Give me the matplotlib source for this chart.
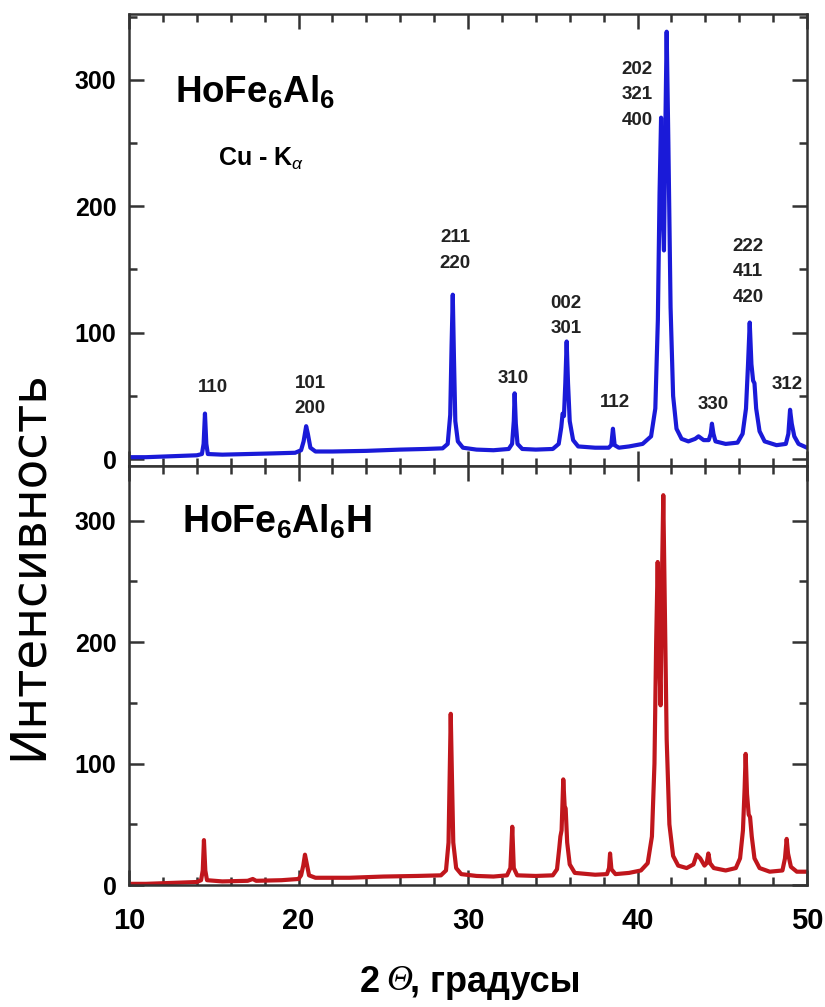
import numpy as np
import matplotlib.pyplot as plt
from matplotlib.ticker import MultipleLocator

plt.rcParams['font.family'] = ['Liberation Sans', 'DejaVu Sans']
plt.rcParams['mathtext.fontset'] = 'custom'
plt.rcParams['mathtext.rm'] = 'Liberation Sans:bold'
plt.rcParams['mathtext.bf'] = 'Liberation Sans:bold'
plt.rcParams['mathtext.it'] = 'Liberation Sans:italic'

# HoFe6Al6, Cu-Ka, 2theta (deg) vs intensity
two_theta_alloy = [
    10.0, 11.0, 12.0, 13.0, 14.0, 14.3, 14.4, 14.48, 14.56, 14.65, 15.5, 17.0, 18.5,
    19.8, 20.15, 20.3, 20.45, 20.55, 20.7, 21.0, 22.0, 24.0, 26.0, 27.5, 28.5, 28.8,
    28.95, 29.03, 29.1, 29.17, 29.25, 29.4, 29.7, 30.5, 31.5, 32.4, 32.6, 32.7, 32.75,
    32.82, 32.92, 33.2, 34.0, 35.0, 35.35, 35.5, 35.58, 35.66, 35.74, 35.82, 35.9,
    36.0, 36.2, 36.5, 37.5, 38.3, 38.45, 38.55, 38.65, 38.9, 39.5, 40.3, 40.8, 41.05,
    41.2, 41.3, 41.39, 41.47, 41.56, 41.64, 41.72, 41.82, 41.95, 42.1, 42.3, 42.6,
    43.0, 43.4, 43.6, 43.9, 44.2, 44.32, 44.39, 44.48, 44.6, 45.2, 45.9, 46.2, 46.4,
    46.52, 46.62, 46.72, 46.82, 46.9, 47.0, 47.2, 47.5, 48.2, 48.75, 48.9, 49.0, 49.1,
    49.25, 49.5, 50.0]
intensity_alloy = [
    1.5, 1.5, 2, 2.5, 3, 4, 12, 36, 12, 4, 3.5, 4, 4.5,
    5, 7, 14, 26, 20, 9, 6, 6, 6.5, 7.5, 8, 8.5, 12,
    35, 90, 130, 80, 30, 14, 9, 7.5, 7, 8, 12, 30, 52,
    28, 12, 8, 7.5, 8, 12, 25, 36, 34, 60, 93, 60,
    30, 15, 10, 9, 9, 11, 24, 11, 9, 10, 12, 18, 40,
    110, 210, 270, 200, 165, 260, 338, 250, 120, 50, 24, 16,
    14, 16, 18, 15, 15, 20, 28, 20, 14, 12, 13, 20, 40,
    75, 108, 75, 62, 60, 40, 22, 14, 11, 12, 20, 39, 28,
    18, 12, 9]

# HoFe6Al6H
two_theta_hydride = [
    10.0, 11.0, 12.0, 13.0, 14.0, 14.25, 14.35, 14.42, 14.5, 14.6, 15.5, 17.0, 17.3,
    17.5, 19.0, 20.0, 20.15, 20.28, 20.38, 20.48, 20.62, 21.0, 23.0, 25.0, 27.0, 28.4,
    28.7, 28.85, 28.93, 28.98, 29.05, 29.13, 29.3, 29.6, 30.5, 31.5, 32.3, 32.5, 32.61,
    32.7, 32.9, 34.0, 35.0, 35.25, 35.38, 35.45, 35.52, 35.62, 35.7, 35.76, 35.85,
    36.0, 36.3, 37.5, 38.2, 38.32, 38.38, 38.46, 38.7, 39.5, 40.2, 40.6, 40.85, 41.0,
    41.1, 41.19, 41.28, 41.36, 41.44, 41.52, 41.6, 41.72, 41.88, 42.1, 42.4, 42.9,
    43.3, 43.49, 43.7, 43.95, 44.08, 44.18, 44.28, 44.5, 45.2, 45.8, 46.05, 46.22,
    46.32, 46.38, 46.46, 46.56, 46.64, 46.74, 46.9, 47.2, 47.8, 48.55, 48.7, 48.8,
    48.88, 49.05, 49.4, 50.0]
intensity_hydride = [
    1, 1, 1.5, 2, 2.5, 4, 12, 37, 12, 4, 3, 3.5, 5,
    3.5, 4, 5, 8, 16, 25, 18, 8, 6, 6, 7, 7.5, 8,
    12, 35, 100, 141, 90, 35, 14, 9, 7.5, 7, 8, 14, 48,
    14, 8, 7.5, 8, 13, 30, 40, 45, 87, 65, 63, 35,
    17, 10, 8.5, 9, 14, 26, 13, 9, 10, 12, 18, 40, 100,
    200, 266, 190, 148, 250, 321, 240, 120, 50, 24, 16, 14,
    17, 25, 22, 16, 18, 26, 18, 14, 12, 14, 22, 45,
    80, 108, 75, 58, 56, 40, 22, 14, 11, 12, 22, 38,
    26, 15, 11, 11]

# Miller indices of the reflections
hkl_labels = ['110', '101\n200', '211\n220', '310', '002\n301', '112',
              '202\n321\n400', '330', '222\n411\n420', '312']
hkl_x = [14.96, 20.68, 29.23, 32.66, 35.78, 38.67, 39.97, 44.45, 46.52, 48.82]
hkl_y = [57, 50, 165, 64, 113, 45, 288, 43, 148, 59]

fig = plt.figure(figsize=(8.25, 10.07), dpi=100)
ax1 = fig.add_axes([0.1564, 0.5372, 0.8218, 0.4489])
ax2 = fig.add_axes([0.1564, 0.1211, 0.8218, 0.4161])

ax1.plot(two_theta_alloy, intensity_alloy, color='#1a1ad8', lw=3)
ax2.plot(two_theta_hydride, intensity_hydride, color='#c0161c', lw=3)

ax1.set_ylim(-5.5, 352)
ax2.set_ylim(0, 345)

for ax in (ax1, ax2):
    ax.set_xlim(10, 50)
    ax.xaxis.set_major_locator(MultipleLocator(10))
    ax.xaxis.set_minor_locator(MultipleLocator(2))
    ax.yaxis.set_major_locator(MultipleLocator(100))
    ax.yaxis.set_minor_locator(MultipleLocator(50))
    ax.tick_params(which='both', direction='in', top=True, right=True,
                   width=1.8, color='#333333')
    ax.tick_params(which='major', length=11)
    ax.tick_params(which='minor', length=6)
    ax.tick_params(axis='y', labelsize=18, pad=9)
    ax.tick_params(axis='x', labelsize=21, pad=16)
    for s in ax.spines.values():
        s.set_linewidth(1.8)
        s.set_color('#333333')
    for lab in ax.get_xticklabels() + ax.get_yticklabels():
        lab.set_fontweight('bold')

ax1.tick_params(axis='x', labelbottom=False)

ax1.text(0.068, 0.805, r'HoFe$_6$Al$_6$', transform=ax1.transAxes,
         fontsize=26.5, fontweight='bold')
ax1.text(0.131, 0.665, r'Cu - K$_\alpha$', transform=ax1.transAxes,
         fontsize=18, fontweight='bold')
ax2.text(0.078, 0.84, r'HoFe$_6$Al$_6$H', transform=ax2.transAxes,
         fontsize=27, fontweight='bold')

for lab, x, y in zip(hkl_labels, hkl_x, hkl_y):
    ax1.text(x, y, lab, ha='center', va='center', fontsize=13.5,
             fontweight='bold', linespacing=1.65, color='#222222')

fig.text(0.034, 1 - 565 / 1007, 'Интенсивность', rotation=90,
         ha='center', va='center', fontsize=35, family='DejaVu Sans')

# axis title: bold "2", italic theta, bold units
ylab = 1 - 982 / 1007
fig.text(360 / 825, ylab, '2', ha='left', va='center', fontsize=26,
         fontweight='bold')
fig.text(386 / 825, ylab, 'Θ', ha='left', va='center', fontsize=26,
         style='italic', family='Liberation Serif')
fig.text(410 / 825, ylab, ', градусы', ha='left', va='center', fontsize=26,
         fontweight='bold')

plt.savefig('out.png', dpi=100)
